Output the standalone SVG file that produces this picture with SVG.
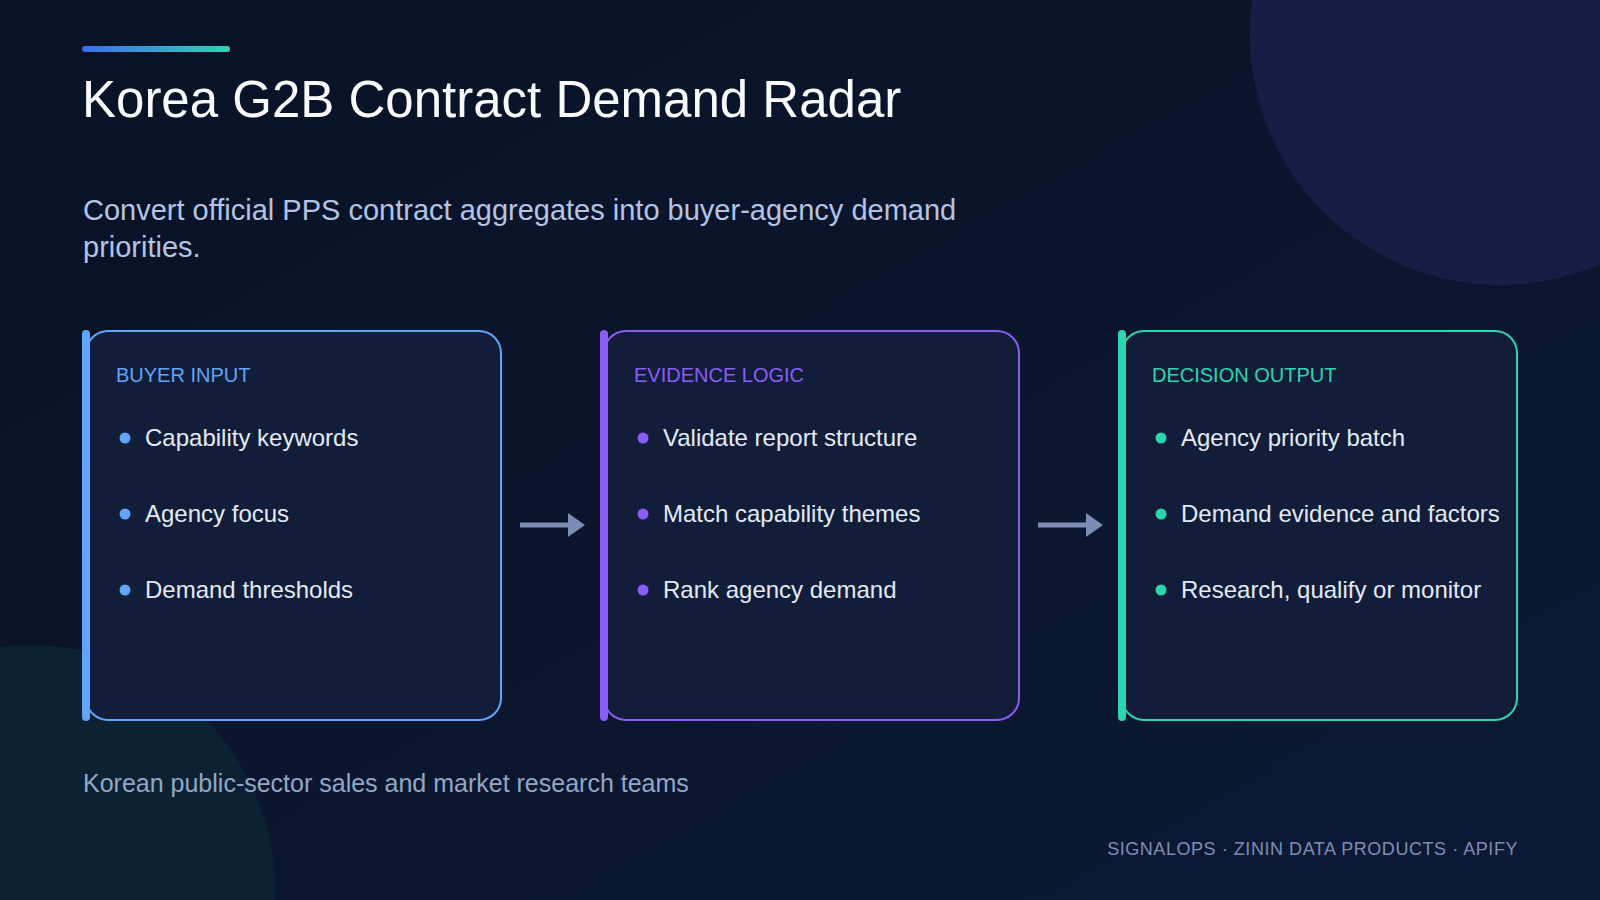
<svg xmlns="http://www.w3.org/2000/svg" width="1600" height="900" viewBox="0 0 1600 900">
  <defs>
    <linearGradient id="bg" x1="0" y1="0" x2="1" y2="1">
      <stop offset="0" stop-color="#091225"/>
      <stop offset="1" stop-color="#0c1a36"/>
    </linearGradient>
    <linearGradient id="topbar" x1="0" y1="0" x2="1" y2="0">
      <stop offset="0" stop-color="#3b6ff0"/>
      <stop offset="1" stop-color="#2dd4b0"/>
    </linearGradient>
    <marker id="arrowhead" viewBox="0 0 17 24" refX="0" refY="12" markerWidth="17" markerHeight="24" markerUnits="userSpaceOnUse" orient="auto">
      <path d="M0,0 L17,12 L0,24 Z" fill="#7c8db5"/>
    </marker>
    <style>
      .sans { font-family: "Liberation Sans", Arial, Helvetica, sans-serif; }
      .title { font-size: 51px; fill: #f8fafc; }
      .subtitle { font-size: 29px; fill: #b3c4e4; }
      .audience { font-size: 25px; fill: #93a7c8; }
      .footer { font-size: 18px; fill: #7d8eb2; letter-spacing: 0.55px; }
      .card-bg { fill: #111d39; stroke-width: 2; }
      .head { font-size: 20px; }
      .item { font-size: 24px; fill: #e3eaf6; }
      .blue .card-bg { stroke: #60a5fa; }
      .blue .accent, .blue .dot { fill: #60a5fa; }
      .blue .head { fill: #60a5fa; }
      .violet .card-bg { stroke: #8b5cf6; }
      .violet .accent, .violet .dot { fill: #8b5cf6; }
      .violet .head { fill: #8b5cf6; }
      .teal .card-bg { stroke: #2dd4b0; }
      .teal .accent, .teal .dot { fill: #2dd4b0; }
      .teal .head { fill: #2dd4b0; }
      .conn { stroke: #7c8db5; stroke-width: 5; fill: none; marker-end: url(#arrowhead); }
    </style>
  </defs>

  <rect x="0" y="0" width="1600" height="900" fill="url(#bg)"/>
  <circle cx="1500" cy="35" r="250" fill="#181d46"/>
  <circle cx="30" cy="890" r="245" fill="#0c2232"/>

  <rect x="82" y="46" width="148" height="6" rx="3" fill="url(#topbar)"/>
  <text class="sans title" x="82" y="117">Korea G2B Contract Demand Radar</text>
  <text class="sans subtitle" x="83" y="220">Convert official PPS contract aggregates into buyer-agency demand</text>
  <text class="sans subtitle" x="83" y="257">priorities.</text>

  <g id="node-buyer-input" class="blue">
    <rect class="card-bg" x="86" y="331" width="415" height="389" rx="22"/>
    <rect class="accent" x="82" y="330" width="8" height="391" rx="4"/>
    <text class="sans head" x="116" y="382">BUYER INPUT</text>
    <circle class="dot" cx="125" cy="438" r="5.5"/>
    <text class="sans item" x="145" y="446">Capability keywords</text>
    <circle class="dot" cx="125" cy="514" r="5.5"/>
    <text class="sans item" x="145" y="522">Agency focus</text>
    <circle class="dot" cx="125" cy="590" r="5.5"/>
    <text class="sans item" x="145" y="597.5">Demand thresholds</text>
  </g>

  <g id="node-evidence-logic" class="violet">
    <rect class="card-bg" x="604" y="331" width="415" height="389" rx="22"/>
    <rect class="accent" x="600" y="330" width="8" height="391" rx="4"/>
    <text class="sans head" x="634" y="382">EVIDENCE LOGIC</text>
    <circle class="dot" cx="643" cy="438" r="5.5"/>
    <text class="sans item" x="663" y="446">Validate report structure</text>
    <circle class="dot" cx="643" cy="514" r="5.5"/>
    <text class="sans item" x="663" y="522">Match capability themes</text>
    <circle class="dot" cx="643" cy="590" r="5.5"/>
    <text class="sans item" x="663" y="597.5">Rank agency demand</text>
  </g>

  <g id="node-decision-output" class="teal">
    <rect class="card-bg" x="1122" y="331" width="395" height="389" rx="22"/>
    <rect class="accent" x="1118" y="330" width="8" height="391" rx="4"/>
    <text class="sans head" x="1152" y="382">DECISION OUTPUT</text>
    <circle class="dot" cx="1161" cy="438" r="5.5"/>
    <text class="sans item" x="1181" y="446">Agency priority batch</text>
    <circle class="dot" cx="1161" cy="514" r="5.5"/>
    <text class="sans item" x="1181" y="522">Demand evidence and factors</text>
    <circle class="dot" cx="1161" cy="590" r="5.5"/>
    <text class="sans item" x="1181" y="597.5">Research, qualify or monitor</text>
  </g>

  <g id="connectors">
    <line class="conn" x1="520" y1="525" x2="568" y2="525"/>
    <line class="conn" x1="1038" y1="525" x2="1086" y2="525"/>
  </g>

  <text class="sans audience" x="83" y="792">Korean public-sector sales and market research teams</text>
  <text class="sans footer" x="1518" y="855" text-anchor="end">SIGNALOPS · ZININ DATA PRODUCTS · APIFY</text>
</svg>
